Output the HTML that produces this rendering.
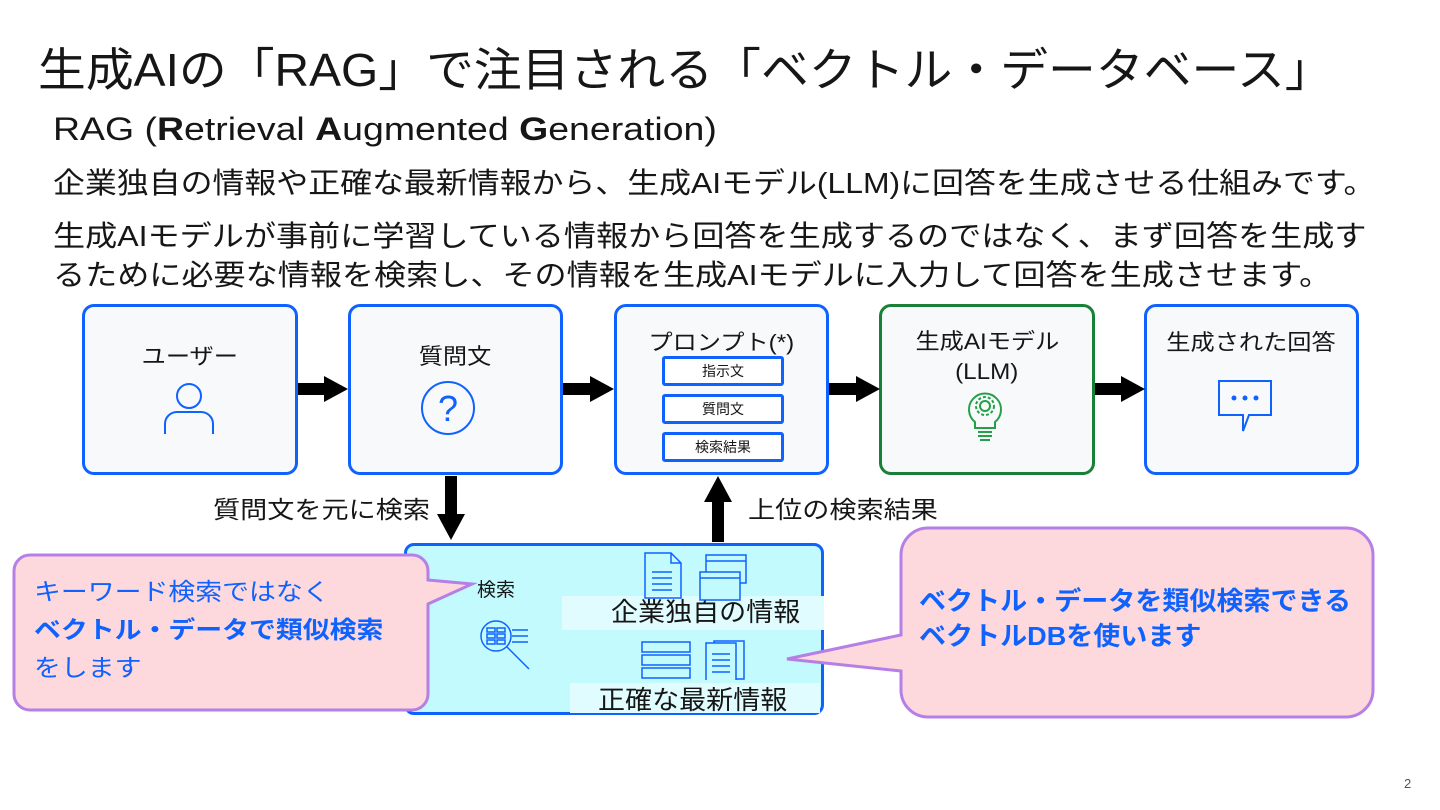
<!DOCTYPE html>
<html><head><meta charset="utf-8"><style>
body{margin:0;width:1440px;height:810px;background:#fff;position:relative;overflow:hidden;font-family:"Liberation Sans","Noto Sans CJK JP",sans-serif;color:#161616}
.a{position:absolute;transform-origin:0 0}
.box{position:absolute;border:3px solid #0f62fe;border-radius:12px;background:#f8f9fb;box-sizing:border-box;text-align:center;font-size:22px}
.sub{position:absolute;left:662px;width:122px;height:30px;border:3px solid #0f62fe;border-radius:3px;box-sizing:border-box;background:#fff;font-size:14px;text-align:center;line-height:24px}
.w{display:inline-block;transform:scaleX(1.1)}
</style></head><body>
<div class="a" style="left:38px;top:34px;font-size:46px;white-space:nowrap;transform:scaleX(1.04)">生成AIの「RAG」で注目される「ベクトル・データベース」</div>
<div class="a" style="left:53px;top:111px;font-size:32px;white-space:nowrap;transform:scaleX(1.17)">RAG (<b>R</b>etrieval <b>A</b>ugmented <b>G</b>eneration)</div>
<div class="a" style="left:53px;top:160px;font-size:29px;white-space:nowrap;transform:scaleX(1.1)">企業独自の情報や正確な最新情報から、生成AIモデル(LLM)に回答を生成させる仕組みです。</div>
<div class="a" style="left:53px;top:218px;font-size:29px;line-height:39px;white-space:nowrap;transform:scaleX(1.107)">生成AIモデルが事前に学習している情報から回答を生成するのではなく、まず回答を生成す<br>るために必要な情報を検索し、その情報を生成AIモデルに入力して回答を生成させます。</div>

<div class="box" style="left:82px;top:304px;width:216px;height:171px;padding-top:32px"><span class="w">ユーザー</span></div>
<svg class="a" style="left:160px;top:380px" width="60" height="56"><g fill="none" stroke="#0f62fe" stroke-width="2"><circle cx="29" cy="16" r="12"/><path d="M5 54 V44 a12 12 0 0 1 12-12 h24 a12 12 0 0 1 12 12 V54"/></g></svg>
<div class="box" style="left:348px;top:304px;width:215px;height:171px;padding-top:32px"><span class="w">質問文</span></div>
<svg class="a" style="left:420px;top:378px" width="60" height="60"><circle cx="28" cy="30" r="26" fill="none" stroke="#0f62fe" stroke-width="2"/><text x="28" y="43" text-anchor="middle" font-size="36" fill="#0f62fe" font-family="Liberation Sans">?</text></svg>
<div class="box" style="left:614px;top:304px;width:215px;height:171px;padding-top:18px"><span class="w">プロンプト(*)</span></div>
<div class="sub" style="top:356px">指示文</div>
<div class="sub" style="top:394px">質問文</div>
<div class="sub" style="top:432px">検索結果</div>
<div class="box" style="left:879px;top:304px;width:216px;height:171px;border-color:#198038;padding-top:20px;line-height:30px"><span class="w">生成AIモデル</span><br><span class="w">(LLM)</span></div>
<svg class="a" style="left:962px;top:386px" width="46" height="56"><g fill="none" stroke="#24a148" stroke-width="2"><path d="M13 36 a16 16 0 1 1 20 0 v6 h-20z"/><circle cx="23" cy="20" r="5"/><circle cx="23" cy="20" r="9" stroke-dasharray="3 2"/><path d="M16 46h14M16 50h14M18 54h10"/></g></svg>
<div class="box" style="left:1144px;top:304px;width:215px;height:171px;padding-top:18px"><span class="w">生成された回答</span></div>
<svg class="a" style="left:1216px;top:378px" width="60" height="56"><g fill="none" stroke="#0f62fe" stroke-width="2"><path d="M3 3h52v34H33l-6 16v-16H3z"/></g><g fill="#0f62fe"><circle cx="18" cy="20" r="2.5"/><circle cx="29" cy="20" r="2.5"/><circle cx="40" cy="20" r="2.5"/></g></svg>

<svg class="a" style="left:0;top:0" width="1440" height="810" pointer-events="none">
<g fill="#000">
<rect x="298" y="383" width="28" height="12"/><polygon points="324,376 348,389 324,402"/>
<rect x="563" y="383" width="29" height="12"/><polygon points="590,376 614,389 590,402"/>
<rect x="829" y="383" width="29" height="12"/><polygon points="856,376 880,389 856,402"/>
<rect x="1095" y="383" width="28" height="12"/><polygon points="1121,376 1145,389 1121,402"/>
<rect x="445" y="476" width="12" height="40"/><polygon points="437,514 451,540 465,514"/>
<rect x="712" y="500" width="12" height="42"/><polygon points="704,502 718,476 732,502"/>
</g></svg>
<div class="a" style="left:213px;top:490px;font-size:24px;transform:scaleX(1.13);white-space:nowrap">質問文を元に検索</div>
<div class="a" style="left:748px;top:490px;font-size:24px;transform:scaleX(1.13);white-space:nowrap">上位の検索結果</div>

<div class="a" style="left:404px;top:543px;width:420px;height:172px;box-sizing:border-box;border:3px solid #0f62fe;border-radius:10px;background:#c2fafd"></div>
<div class="a" style="left:562px;top:596px;width:262px;height:34px;background:#e0fcfe"></div>
<div class="a" style="left:570px;top:683px;width:250px;height:30px;background:#e0fcfe"></div>
<div class="a" style="left:477px;top:575px;font-size:19px">検索</div>
<div class="a" style="left:611px;top:592px;font-size:26px;transform:scaleX(1.04);white-space:nowrap">企業独自の情報</div>
<div class="a" style="left:598px;top:680px;font-size:26px;transform:scaleX(1.04);white-space:nowrap">正確な最新情報</div>
<svg class="a" style="left:478px;top:616px" width="56" height="56"><g fill="none" stroke="#0f62fe" stroke-width="1.5"><circle cx="18" cy="20" r="15"/><path d="M29 31l22 22M34 14h16M34 20h16M34 26h16"/><rect x="9" y="12" width="8" height="4"/><rect x="19" y="12" width="8" height="4"/><rect x="9" y="18" width="8" height="4"/><rect x="19" y="18" width="8" height="4"/><rect x="9" y="24" width="8" height="4"/><rect x="19" y="24" width="8" height="4"/></g></svg>
<svg class="a" style="left:640px;top:550px" width="120" height="130"><g fill="none" stroke="#0f62fe" stroke-width="1.5"><path d="M5 3h26l10 10v35H5z M31 3v10h10"/><path d="M12 22h20M12 28h20M12 34h20M12 40h20"/><rect x="66" y="5" width="40" height="28"/><path d="M66 11h40"/><rect x="60" y="22" width="40" height="28" fill="#c2fafd"/><path d="M60 28h40"/><rect x="2" y="92" width="48" height="10"/><rect x="2" y="105" width="48" height="10"/><rect x="2" y="118" width="48" height="10"/><rect x="70" y="95" width="30" height="38" transform="translate(4 -4)"/><rect x="66" y="93" width="30" height="38" fill="#c2fafd"/><path d="M72 104h18M72 110h18M72 116h18M72 122h18"/></g></svg>

<svg class="a" style="left:0;top:0" width="1440" height="810">
<path d="M30 555 H412 a16 16 0 0 1 16 16 v9 L472 584 L428 604 V694 a16 16 0 0 1 -16 16 H30 a16 16 0 0 1 -16 -16 V571 a16 16 0 0 1 16 -16z" fill="#fdd9dd" stroke="#b57fe6" stroke-width="3"/>
<path d="M928 528 H1346 a27 27 0 0 1 27 27 V690 a27 27 0 0 1 -27 27 H928 a27 27 0 0 1 -27 -27 V671 L787 659 L901 635 V555 a27 27 0 0 1 27 -27z" fill="#fdd9dd" stroke="#b57fe6" stroke-width="3"/>
</svg>
<div class="a" style="left:34px;top:574px;font-size:24px;line-height:38px;color:#0f62fe;white-space:nowrap;transform:scaleX(1.12)">キーワード検索ではなく<br><b>ベクトル・データで類似検索</b><br>をします</div>
<div class="a" style="left:919px;top:584px;font-size:26px;line-height:35px;color:#0f62fe;font-weight:bold;white-space:nowrap;transform:scaleX(1.04)">ベクトル・データを類似検索できる<br>ベクトルDBを使います</div>
<div class="a" style="left:1404px;top:776px;font-size:13px;color:#555">2</div>
</body></html>
